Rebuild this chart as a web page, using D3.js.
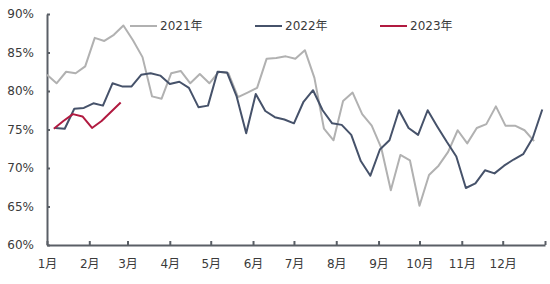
<!DOCTYPE html>
<html><head><meta charset="utf-8">
<script src="https://cdn.jsdelivr.net/npm/d3@7/dist/d3.min.js"></script>
<style>
html,body{margin:0;padding:0;background:#fff;}
svg text{font-family:"DejaVu Sans","Noto Sans CJK SC",sans-serif;}
</style></head>
<body>
<svg id="chart" width="550" height="284"></svg>
<script>
// ---- data ----
const seriesNames = ["2021年", "2022年", "2023年"];
const seriesStart = ["2021-01-01", "2022-01-07", "2023-01-06"]; // first weekly observation
const values2021 = [82.1, 81.0, 82.5, 82.3, 83.2, 86.9, 86.5, 87.3, 88.5, 86.6,
  84.4, 79.3, 79.0, 82.3, 82.6, 81.0, 82.2, 81.0, 82.5, 82.3,
  79.2, 79.8, 80.4, 84.2, 84.3, 84.5, 84.2, 85.3, 81.7, 75.1,
  73.6, 78.7, 79.8, 77.0, 75.5, 72.6, 67.1, 71.7, 71.0, 65.1,
  69.1, 70.3, 72.1, 74.9, 73.2, 75.2, 75.7, 78.0, 75.5, 75.5,
  74.9, 73.5];
const values2022 = [75.2, 75.1, 77.7, 77.8, 78.4, 78.1, 81.0, 80.6, 80.6, 82.1,
  82.3, 82.0, 80.9, 81.2, 80.4, 77.9, 78.1, 82.5, 82.4, 79.3,
  74.5, 79.6, 77.4, 76.6, 76.3, 75.8, 78.6, 80.1, 77.5, 75.8,
  75.6, 74.3, 70.9, 69.0, 72.4, 73.6, 77.5, 75.2, 74.3, 77.5,
  75.4, 73.4, 71.5, 67.4, 68.0, 69.7, 69.3, 70.3, 71.1, 71.8,
  73.9, 77.6];
const values2023 = [75.1, 76.1, 77.0, 76.7, 75.2, 76.1, 77.3, 78.5];
const yTicks = [60, 65, 70, 75, 80, 85, 90];
const monthLabels = ["1月","2月","3月","4月","5月","6月","7月","8月","9月","10月","11月","12月",""];

// ---- styles ----
const colors = ["#b1b1b1", "#46526a", "#b11a40"];
const axisColor = "#5a5f66";
const textColor = "#3a3a3a";

const svg = d3.select("#chart");
const plotLeft = 47, plotRight = 545, plotTop = 14, plotBottom = 245;

const x = d3.scaleTime()
  .domain([new Date(2021, 0, 1), new Date(2022, 0, 1)])
  .range([plotLeft, plotRight]);
const y = d3.scaleLinear().domain([60, 90]).range([plotBottom, plotTop]);

function weeklyDates(startStr, n) {
  const s = d3.timeParse("%Y-%m-%d")(startStr);
  return d3.range(n).map(i => {
    const d = d3.timeDay.offset(s, 7 * i);
    return new Date(2021, d.getMonth(), d.getDate());
  });
}
const allValues = [values2021, values2022, values2023];
const series = allValues.map((vals, si) => {
  const dates = weeklyDates(seriesStart[si], vals.length);
  return vals.map((v, i) => ({date: dates[i], value: v}));
});

// ---- axes ----
const yAxis = d3.axisLeft(y).tickValues(yTicks).tickFormat(d => d + "%")
  .tickSizeInner(-3).tickSizeOuter(0).tickPadding(13);
const gy = svg.append("g").attr("transform", `translate(${plotLeft},0)`).call(yAxis);

const monthTicks = d3.timeMonth.range(new Date(2021, 0, 1), new Date(2022, 0, 2));
const xAxis = d3.axisBottom(x).tickValues(monthTicks)
  .tickFormat((d, i) => monthLabels[i])
  .tickSizeInner(-4).tickSizeOuter(0).tickPadding(14);
const gx = svg.append("g").attr("transform", `translate(0,${plotBottom})`).call(xAxis);

[gx, gy].forEach(g => {
  g.select(".domain").attr("stroke", axisColor).attr("stroke-width", 2);
  g.selectAll(".tick line").attr("stroke", axisColor).attr("stroke-width", 2);
  g.selectAll(".tick text").attr("fill", textColor).style("font-size", "12px");
});

// ---- lines ----
const line = d3.line().x(d => x(d.date)).y(d => y(d.value));
series.forEach((s, si) => {
  svg.append("path").datum(s)
    .attr("fill", "none")
    .attr("stroke", colors[si])
    .attr("stroke-width", 2)
    .attr("stroke-linejoin", "round")
    .attr("d", line);
});

// ---- legend ----
const legendX = [130, 255, 380];
const legendY = 26;
seriesNames.forEach((name, i) => {
  const g = svg.append("g").attr("transform", `translate(${legendX[i]},${legendY})`);
  g.append("line").attr("x1", 0).attr("x2", 27).attr("y1", 0).attr("y2", 0)
    .attr("stroke", colors[i]).attr("stroke-width", 2);
  g.append("text").attr("x", 30).attr("y", 0).attr("dy", "0.35em")
    .attr("fill", textColor).style("font-size", "12px").text(name);
});
</script>
</body></html>
